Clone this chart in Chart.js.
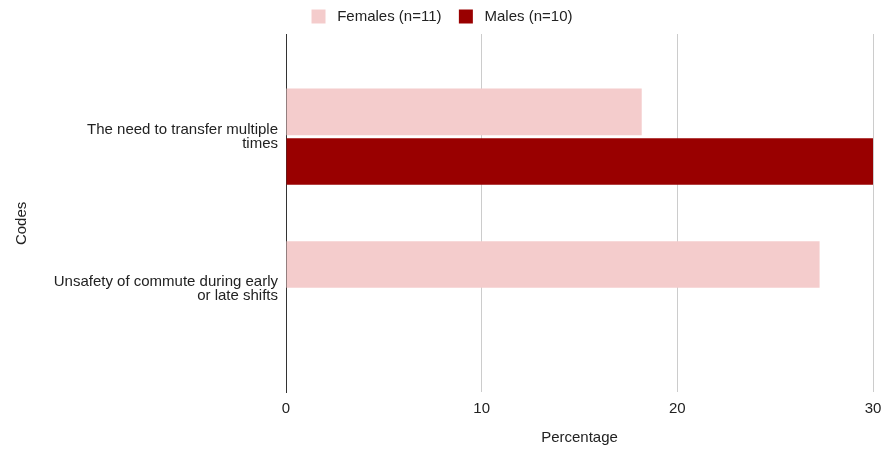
<!DOCTYPE html>
<html>
<head>
<meta charset="utf-8">
<script src="https://cdn.jsdelivr.net/npm/chart.js@4.4.0/dist/chart.umd.min.js"></script>
<style>
  html, body { margin: 0; padding: 0; background: #fff; }
  #wrap { width: 884px; height: 450px; }
</style>
</head>
<body>
<div id="wrap"><canvas id="c"></canvas></div>
<script>
// codes shown on the y axis, one entry per line of the label
const categories = [
  ['The need to transfer multiple', 'times'],
  ['Unsafety of commute during early', 'or late shifts']
];
const females = [18.18, 27.27];
const males = [30, 0];
const seriesNames = ['Females (n=11)', 'Males (n=10)'];
const seriesColors = ['#f4cccc', '#990000'];
const xTicks = [0, 10, 20, 30];

const font = 'Arial, "Liberation Sans", sans-serif';

const toPoints = arr => arr.map((v, i) => ({ x: v, y: i }));

new Chart(document.getElementById('c'), {
  type: 'bar',
  data: {
    datasets: [
      { label: seriesNames[0], data: toPoints(females), backgroundColor: seriesColors[0] },
      { label: seriesNames[1], data: toPoints(males), backgroundColor: seriesColors[1] }
    ]
  },
  options: {
    indexAxis: 'y',
    responsive: true,
    maintainAspectRatio: false,
    animation: false,
    categoryPercentage: 0.65,
    barPercentage: 0.94,
    layout: { padding: 0 },
    plugins: {
      tooltip: { enabled: false },
      legend: {
        position: 'top',
        labels: {
          boxWidth: 14, boxHeight: 14, padding: 9,
          color: '#222', font: { family: font, size: 15 },
          generateLabels: chart => chart.data.datasets.map((ds, i) => ({
            text: ' ' + ds.label + (i < chart.data.datasets.length - 1 ? '  ' : ''),
            fillStyle: ds.backgroundColor,
            strokeStyle: ds.backgroundColor,
            lineWidth: 0,
            fontColor: '#222',
            hidden: false,
            datasetIndex: i
          }))
        }
      }
    },
    scales: {
      x: {
        type: 'linear',
        min: xTicks[0], max: xTicks[xTicks.length - 1],
        afterBuildTicks: s => { s.ticks = xTicks.map(v => ({ value: v })); },
        afterFit: s => { s.height = 58; s.paddingRight = 11; },
        grid: {
          color: c => c.tick && c.tick.value === 0 ? 'rgba(0,0,0,0)' : '#cccccc',
          drawTicks: false
        },
        border: { display: false },
        ticks: { padding: 8, color: '#222', font: { family: font, size: 15 } },
        title: {
          display: true, text: 'Percentage', color: '#222',
          font: { family: font, size: 15 }, padding: { top: 4, bottom: 3 }
        }
      },
      y: {
        type: 'linear',
        reverse: true,
        offset: false,
        min: -0.673, max: 1.673,
        afterBuildTicks: s => { s.ticks = categories.map((c, i) => ({ value: i })); },
        afterFit: s => { s.width = 286; },
        grid: { display: false, drawTicks: false },
        border: { display: true, color: '#333', width: 1 },
        ticks: {
          padding: 8, color: '#222', font: { family: font, size: 15, lineHeight: '14px' },
          callback: v => categories[v]
        },
        title: {
          display: true, text: 'Codes     ', color: '#222',
          font: { family: font, size: 15 }, padding: { top: 13, bottom: 6 }
        }
      }
    }
  }
});
</script>
</body>
</html>
